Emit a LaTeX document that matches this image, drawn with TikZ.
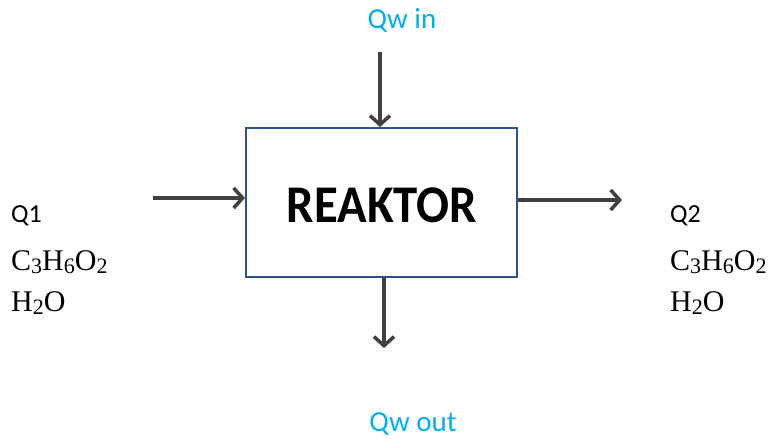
\documentclass[tikz,border=0pt]{standalone}
\usepackage{fontspec}
\setmainfont{Liberation Serif}
\newfontfamily\calib{Carlito}
\usetikzlibrary{arrows.meta}
\definecolor{boxblue}{RGB}{47,82,143}
\definecolor{arrgray}{RGB}{64,64,64}
\definecolor{qcyan}{RGB}{0,176,240}
\tikzset{
  flow/.style={draw=arrgray, line width=4pt, -{Straight Barb[length=9pt,width=20pt,line width=3.5pt]}},
  lab/.style={font=\calib\fontsize{26}{30}\selectfont, inner sep=0pt},
  qlab/.style={font=\calib\fontsize{29}{33}\selectfont, inner sep=0pt, text=qcyan},
  chem/.style={font=\fontsize{30}{34}\selectfont, inner sep=0pt, anchor=base west},
}
\newcommand{\mysub}[1]{\raisebox{-0.12em}{\fontsize{22}{24}\selectfont #1}}
\begin{document}
\begin{tikzpicture}[x=1pt,y=-1pt]
\useasboundingbox (0,0) rectangle (771,439);
\node[draw=boxblue, line width=2pt, minimum width=271pt, minimum height=149pt, inner sep=0pt] (reak) at (381.5,202.5) {};
\node[font=\calib\bfseries\fontsize{53}{60}\selectfont, inner sep=0pt] (rt) at (382,205) {\scalebox{0.92}[1]{REAKTOR}};
\node[qlab] (qin) at (402,20) {Qw in};
\node[qlab] (qout) at (413,424) {Qw out};
\node[lab, anchor=base west] (q1) at (11,222) {Q1};
\node[chem] (c1) at (11,270) {C\mysub{3}H\mysub{6}O\mysub{2}};
\node[chem] (h1) at (11,311) {H\mysub{2}O};
\node[lab, anchor=base west] (q2) at (670,222) {Q2};
\node[chem] (c2) at (670,270) {C\mysub{3}H\mysub{6}O\mysub{2}};
\node[chem] (h2) at (670,311) {H\mysub{2}O};
\coordinate (lin) at (153,198);
\coordinate (rout) at (622,200);
\coordinate (tin) at (380,52);
\coordinate (bout) at (384,348);
\draw[flow] (lin) -- (reak.west |- lin);
\draw[flow] (reak.east |- rout) -- (rout);
\draw[flow] (tin) -- (tin |- reak.north);
\draw[flow] (bout |- reak.south) -- (bout);
\end{tikzpicture}
\end{document}
